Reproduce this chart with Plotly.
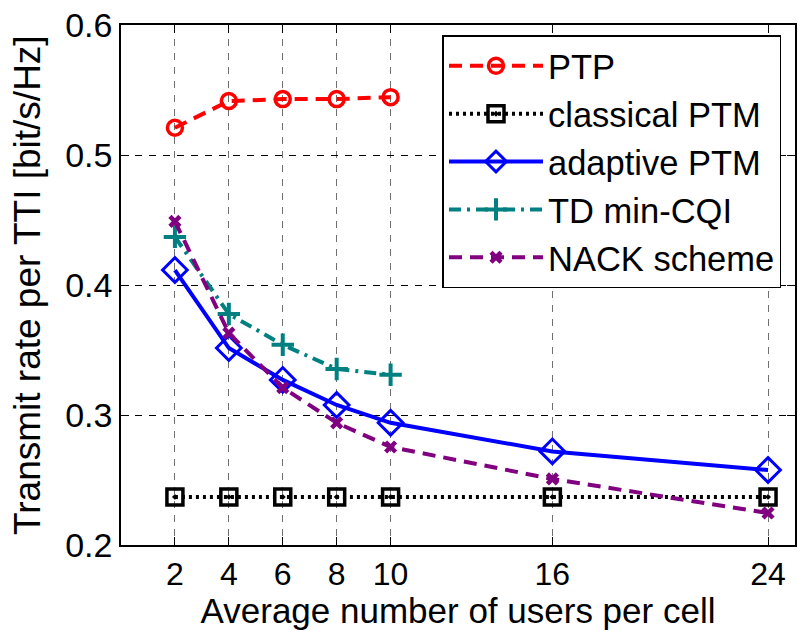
import plotly.graph_objects as go

# Average number of users per cell
users_all = [2, 4, 6, 8, 10, 16, 24]
users_short = [2, 4, 6, 8, 10]

# Transmit rate per TTI [bit/s/Hz] for each scheme
ptp = [0.521, 0.5415, 0.543, 0.543, 0.5445]
classical_ptm = [0.237, 0.237, 0.237, 0.237, 0.237, 0.237, 0.237]
adaptive_ptm = [0.4115, 0.3515, 0.327, 0.3077, 0.294, 0.272, 0.2577]
td_min_cqi = [0.437, 0.3777, 0.354, 0.3354, 0.331]
nack_scheme = [0.449, 0.363, 0.321, 0.294, 0.2754, 0.2508, 0.2246]

x_ticks = [2, 4, 6, 8, 10, 16, 24]
y_ticks = [0.2, 0.3, 0.4, 0.5, 0.6]

FONT = "Liberation Sans, Arial, sans-serif"

fig = go.Figure()

series = [
    ("PTP", users_short, ptp, "#ff0000", "13px,8px",
     dict(symbol="circle-open", size=15, line=dict(width=3.5))),
    ("classical PTM", users_all, classical_ptm, "#000000", "3px,4px",
     dict(symbol="square-open-dot", size=16, line=dict(width=3.5))),
    ("adaptive PTM", users_all, adaptive_ptm, "#0000ff", "solid",
     dict(symbol="diamond-open", size=19, line=dict(width=3))),
    ("TD min-CQI", users_short, td_min_cqi, "#008080", "12px,6px,3px,6px",
     dict(symbol="cross-thin-open", size=16, line=dict(width=4))),
    ("NACK scheme", users_all, nack_scheme, "#800080", "13px,8px",
     dict(symbol="x-thin-open", size=10, line=dict(width=4.5))),
]

for i, (name, xs, ys, color, dash, marker) in enumerate(series):
    marker = dict(marker)
    marker["color"] = color
    marker["line"] = dict(marker["line"], color=color)
    fig.add_trace(go.Scatter(
        x=xs, y=ys, name=name, mode="lines+markers",
        line=dict(color=color, width=4, dash=dash),
        marker=marker, legendgroup=f"g{i}",
    ))

axis_common = dict(
    showline=True, linecolor="black", linewidth=1.5, mirror="ticks",
    ticks="inside", ticklen=8, tickcolor="black", tickwidth=1,
    showgrid=True, griddash="7px,7px", gridwidth=1,
    zeroline=False,
)

fig.update_xaxes(
    range=[0, 25], tickvals=x_ticks, ticktext=[str(v) for v in x_ticks],
    gridcolor="#707070",
    tickfont=dict(family=FONT, size=32, color="black"),
    title=dict(text="Average number of users per cell",
               font=dict(family=FONT, size=35, color="black"), standoff=4),
    **axis_common,
)
fig.update_yaxes(
    range=[0.2, 0.6], tickvals=y_ticks, ticktext=[f"{v:.1f}" for v in y_ticks],
    gridcolor="#000000",
    tickfont=dict(family=FONT, size=34, color="black"),
    **axis_common,
)

# y-axis title placed as a rotated annotation to the left of the tick labels
fig.add_annotation(
    text="Transmit rate per TTI [bit/s/Hz]",
    xref="paper", yref="paper", x=-0.1395, y=0.5,
    xanchor="center", yanchor="middle", textangle=-90, showarrow=False,
    font=dict(family=FONT, size=37, color="black"),
)

fig.update_layout(
    width=798, height=630,
    margin=dict(l=121, r=1, t=25, b=85),
    paper_bgcolor="white", plot_bgcolor="white",
    font=dict(family=FONT, color="black"),
    showlegend=True,
    legend=dict(
        x=0.477, y=0.98, xanchor="left", yanchor="top",
        bgcolor="white", bordercolor="black", borderwidth=1.5,
        font=dict(family=FONT, size=34.5, color="black"),
        traceorder="grouped", tracegroupgap=0, itemwidth=94,
    ),
)

fig.write_html("out.html")
